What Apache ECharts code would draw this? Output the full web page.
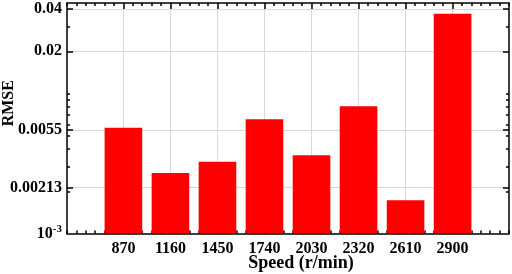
<!DOCTYPE html>
<html><head><meta charset="utf-8">
<script src="https://cdn.jsdelivr.net/npm/echarts@6/dist/echarts.min.js"></script>
<style>html,body{margin:0;padding:0;background:#fff}#c{width:512px;height:274px}</style>
</head><body><div id="c"></div>
<script>
// ---- data ----
const speeds = [870, 1160, 1450, 1740, 2030, 2320, 2610, 2900];
const rmse = [0.0057, 0.00271, 0.00326, 0.00656, 0.00362, 0.00812, 0.00173, 0.0371];
const xTickValues = [870, 1160, 1450, 1740, 2030, 2320, 2610, 2900];
const yLabelValues = [0.001, 0.00213, 0.0055, 0.02, 0.04];
const yLabelTexts = ['{b|10}{s|-3}', '0.00213', '0.0055', '0.02', '0.04'];
const yMajorTicks = [0.00213, 0.0055, 0.02, 0.04];
const yMinorTicks = [0.002, 0.003, 0.004, 0.005, 0.006, 0.007, 0.008, 0.009, 0.01, 0.03];

// ---- layout / style ----
const X_MIN = 522, X_MAX = 3248, X_MINOR = 58;
const Y_MIN = 0.001, Y_MAX = 0.0443;
const BAR_UNITS = 232;
const FONT = "'Liberation Serif','Times New Roman',serif";
const lineStyle = {color: '#000', width: 1.5};
const gridLine = {show: true, lineStyle: {color: '#d8d8d8', width: 1}};

function yFmt(value) {
  let v = value < 0 ? Math.pow(10, value) : value;
  let best = 0, bd = Infinity;
  yLabelValues.forEach((t, i) => {
    const d = Math.abs(Math.log10(t) - Math.log10(v));
    if (d < bd) { bd = d; best = i; }
  });
  return yLabelTexts[best];
}

const xCommon = {type: 'value', min: X_MIN, max: X_MAX, gridIndex: 0};
const yCommon = {type: 'log', logBase: 10, min: Y_MIN, max: Y_MAX, gridIndex: 0};

const chart = echarts.init(document.getElementById('c'), null, {renderer: 'canvas'});
chart.setOption({
  animation: false,
  backgroundColor: '#fff',
  grid: {left: 67, right: 3, top: 3, bottom: 40.5, containLabel: false, outerBoundsMode: 'none'},
  xAxis: [
    Object.assign({}, xCommon, {position: 'bottom', interval: X_MINOR,
      axisLine: {show: false}, axisTick: {show: true, inside: true, length: 3, lineStyle: lineStyle},
      axisLabel: {show: false}, splitLine: {show: false}}),
    Object.assign({}, xCommon, {position: 'bottom',
      axisLine: {show: false},
      axisTick: {show: true, inside: true, length: 6, lineStyle: lineStyle, customValues: xTickValues},
      axisLabel: {show: true, customValues: xTickValues, formatter: v => String(Math.round(v)), margin: 7, color: '#000',
        fontFamily: FONT, fontWeight: 'bold', fontSize: 16},
      splitLine: gridLine,
      name: 'Speed (r/min)', nameLocation: 'middle', nameGap: 21, nameMoveOverlap: false,
      nameTextStyle: {fontFamily: FONT, fontWeight: 'bold', fontSize: 18, color: '#000', padding: [0, 0, 0, 26]}}),
    Object.assign({}, xCommon, {position: 'top', interval: X_MINOR,
      axisLine: {show: true, lineStyle: lineStyle}, axisTick: {show: true, inside: true, length: 3, lineStyle: lineStyle},
      axisLabel: {show: false}, splitLine: {show: false}}),
    Object.assign({}, xCommon, {position: 'top',
      axisLine: {show: false},
      axisTick: {show: true, inside: true, length: 6, lineStyle: lineStyle, customValues: xTickValues},
      axisLabel: {show: false}, splitLine: {show: false}}),
    Object.assign({}, xCommon, {position: 'bottom', z: 10,
      axisLine: {show: true, lineStyle: lineStyle}, axisTick: {show: false},
      axisLabel: {show: false}, splitLine: {show: false}})
  ],
  yAxis: [
    Object.assign({}, yCommon, {position: 'left',
      axisLine: {show: true, lineStyle: lineStyle},
      axisTick: {show: true, inside: true, length: 6, lineStyle: lineStyle, customValues: yMajorTicks},
      axisLabel: {show: true, customValues: yLabelValues, formatter: yFmt, margin: 5, color: '#000',
        fontFamily: FONT, fontWeight: 'bold', fontSize: 16,
        rich: {b: {fontFamily: FONT, fontWeight: 'bold', fontSize: 16, color: '#000'},
               s: {fontFamily: FONT, fontWeight: 'bold', fontSize: 11, color: '#000', verticalAlign: 'top', padding: [0, 0, 8, 0]}}},
      minorTick: {show: false}, minorSplitLine: {show: false},
      splitLine: gridLine,
      name: 'RMSE', nameLocation: 'middle', nameGap: 50, nameRotate: 90, nameMoveOverlap: false,
      nameTextStyle: {fontFamily: FONT, fontWeight: 'bold', fontSize: 16, color: '#000', padding: [0, 0, 0, 30]}}),
    Object.assign({}, yCommon, {position: 'left',
      axisLine: {show: false},
      axisTick: {show: true, inside: true, length: 3, lineStyle: lineStyle, customValues: yMinorTicks},
      axisLabel: {show: false}, splitLine: {show: false}, minorTick: {show: false}}),
    Object.assign({}, yCommon, {position: 'right',
      axisLine: {show: true, lineStyle: lineStyle},
      axisTick: {show: true, inside: true, length: 6, lineStyle: lineStyle, customValues: yMajorTicks},
      axisLabel: {show: false}, splitLine: {show: false}, minorTick: {show: false}}),
    Object.assign({}, yCommon, {position: 'right',
      axisLine: {show: false},
      axisTick: {show: true, inside: true, length: 3, lineStyle: lineStyle, customValues: yMinorTicks},
      axisLabel: {show: false}, splitLine: {show: false}, minorTick: {show: false}})
  ],
  series: [{
    type: 'custom',
    xAxisIndex: 0, yAxisIndex: 0,
    data: speeds.map((s, i) => [s, rmse[i]]),
    clip: true,
    renderItem: function (params, api) {
      const x = api.value(0), y = api.value(1);
      const top = api.coord([x, y]);
      const bot = api.coord([x, Y_MIN]);
      const l = api.coord([x - BAR_UNITS / 2, y])[0];
      const r = api.coord([x + BAR_UNITS / 2, y])[0];
      return {type: 'rect', shape: {x: l, y: top[1], width: r - l, height: bot[1] - top[1]},
        style: {fill: '#ff0000'}};
    }
  }]
});
</script>
</body></html>
